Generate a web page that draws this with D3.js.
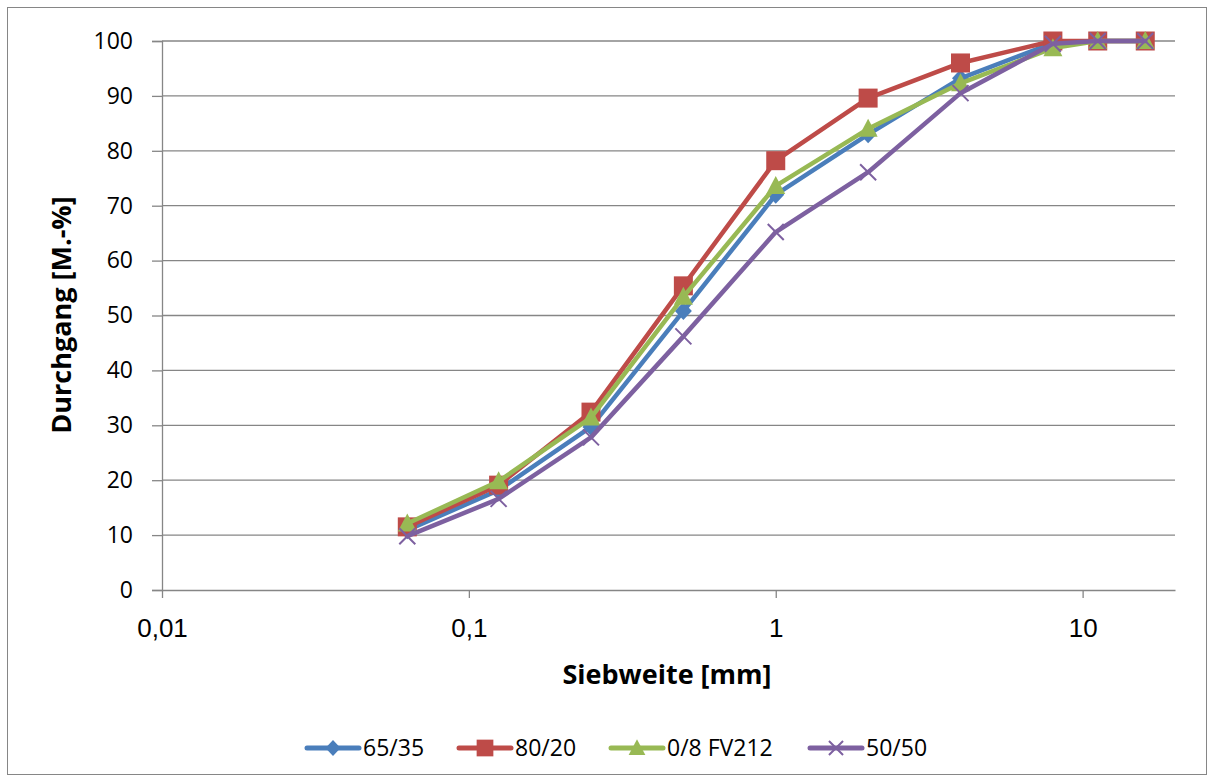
<!DOCTYPE html>
<html><head><meta charset="utf-8">
<script src="https://cdn.jsdelivr.net/npm/d3@7"></script>
<style>body{margin:0;background:#fff}svg{display:block}</style>
</head><body>
<svg id="c" width="1214" height="782"></svg>
<script>
const sieves = [0.063, 0.125, 0.25, 0.5, 1, 2, 4, 8, 11.2, 16];
const s6535 = [10.9, 18.2, 29.7, 50.8, 72, 83, 93.2, 99.6, 100, 100];
const s8020 = [11.5, 19.1, 32.4, 55.4, 78.2, 89.6, 96, 100, 100, 100];
const sFV212 = [12.1, 19.8, 31.4, 53.4, 73.6, 84, 92.3, 98.7, 100, 100];
const s5050 = [9.8, 16.6, 27.8, 46.2, 65.2, 76.1, 90.5, 99.5, 100, 100];
const seriesNames = ["65/35", "80/20", "0/8 FV212", "50/50"];
const xTicks = [0.01, 0.1, 1, 10];
const xTickLabels = ["0,01", "0,1", "1", "10"];
const yTicks = [0, 10, 20, 30, 40, 50, 60, 70, 80, 90, 100];

const colors = ["#4A7EBB", "#BE4B48", "#98B954", "#7D60A0"];
const symbols = ["diamond", "square", "triangle", "x"];
const data = [s6535, s8020, sFV212, s5050];

const svg = d3.select("#c");
svg.append("rect").attr("x", 7.5).attr("y", 7.5).attr("width", 1199).attr("height", 767)
  .attr("fill", "#fff").attr("stroke", "#868686").attr("stroke-width", 1);

const L = 162, R = 1175, T = 41, B = 590;
const x = d3.scaleLog().domain([0.01, 20]).range([L, R]);
const y = d3.scaleLinear().domain([0, 100]).range([B, T]);

// gridlines
svg.append("g").selectAll("line").data(yTicks.filter(d => d > 0)).join("line")
  .attr("x1", L).attr("x2", R).attr("y1", d => y(d)).attr("y2", d => y(d))
  .attr("stroke", "#868686").attr("stroke-width", 1.3);

// y axis
const ya = svg.append("g").attr("transform", `translate(${L},0)`)
  .call(d3.axisLeft(y).tickValues(yTicks).tickSize(10).tickPadding(19).tickFormat(d3.format("d")));
ya.select(".domain").attr("stroke", "#868686").attr("stroke-width", 1.3);
ya.selectAll(".tick line").attr("stroke", "#868686").attr("stroke-width", 1.3);
ya.selectAll("text").attr("font-family", "'Open Sans', sans-serif").attr("font-size", 23).attr("fill", "#000");

// x axis
const xa = svg.append("g").attr("transform", `translate(0,${B})`)
  .call(d3.axisBottom(x).tickValues(xTicks).tickSize(8).tickPadding(0)
    .tickFormat((d, i) => xTickLabels[i]).tickSizeOuter(0));
xa.select(".domain").attr("stroke", "#868686").attr("stroke-width", 1.3);
xa.selectAll(".tick line").attr("stroke", "#868686").attr("stroke-width", 1.3);
xa.selectAll("text").attr("dy", null).attr("y", 47)
  .attr("font-family", "'Liberation Sans', sans-serif").attr("font-size", 26).attr("fill", "#000");

// axis titles
svg.append("text").attr("x", 667).attr("y", 684).attr("text-anchor", "middle")
  .attr("font-family", "'Open Sans', sans-serif").attr("font-weight", "bold")
  .attr("font-size", 27).text("Siebweite [mm]");
svg.append("text").attr("transform", "translate(71,315) rotate(-90)").attr("text-anchor", "middle")
  .attr("font-family", "'Open Sans', sans-serif").attr("font-weight", "bold")
  .attr("font-size", 27).text("Durchgang [M.-%]");

function marker(g, type, color, k) {
  if (type === "diamond") {
    g.append("path").attr("d", `M0,${-9*k}L${8.5*k},0L0,${9*k}L${-8.5*k},0Z`).attr("fill", color);
  } else if (type === "square") {
    g.append("rect").attr("x", -9.5*k).attr("y", -9.5*k).attr("width", 19*k).attr("height", 19*k).attr("fill", color);
  } else if (type === "triangle") {
    g.append("path").attr("d", `M0,${-10*k}L${9.5*k},${8*k}L${-9.5*k},${8*k}Z`).attr("fill", color);
  } else {
    g.append("path").attr("d", `M${-8*k},${-8*k}L${8*k},${8*k}M${-8*k},${8*k}L${8*k},${-8*k}`)
      .attr("stroke", color).attr("stroke-width", 2).attr("fill", "none");
  }
}

const line = d3.line().x(d => x(d[0])).y(d => y(d[1]));
data.forEach((vals, i) => {
  const pts = sieves.map((s, j) => [s, vals[j]]);
  const g = svg.append("g");
  g.append("path").datum(pts).attr("d", line).attr("fill", "none")
    .attr("stroke", colors[i]).attr("stroke-width", 4.5).attr("stroke-linejoin", "round").attr("stroke-linecap", "round");
  g.selectAll("g.m").data(pts).join("g").attr("class", "m")
    .attr("transform", d => `translate(${x(d[0])},${y(d[1])})`)
    .each(function() { marker(d3.select(this), symbols[i], colors[i], 1); });
});

// legend
const legX = [305, 457, 609, 808];
const leg = svg.append("g");
seriesNames.forEach((n, i) => {
  const g = leg.append("g").attr("transform", `translate(${legX[i]},748)`);
  g.append("line").attr("x1", 2).attr("x2", 54).attr("stroke", colors[i]).attr("stroke-width", 5).attr("stroke-linecap", "round");
  const m = g.append("g").attr("transform", "translate(28,0)");
  marker(m, symbols[i], colors[i], 0.88);
  g.append("text").attr("x", 58).attr("y", 8).attr("font-family", "'Open Sans', sans-serif")
    .attr("font-size", 23).text(n);
});
</script>
</body></html>
